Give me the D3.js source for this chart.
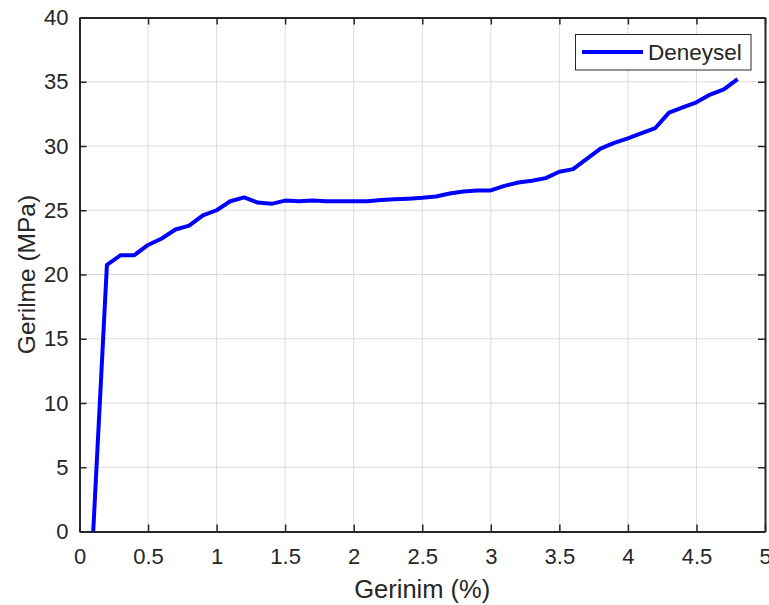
<!DOCTYPE html>
<html><head><meta charset="utf-8">
<script src="https://cdn.jsdelivr.net/npm/d3@7"></script>
<style>body{margin:0;background:#fff}svg{display:block}text{font-family:"Liberation Sans",Arial,sans-serif;fill:#262626}</style>
</head><body><svg id="c" width="769" height="605"></svg>
<script>
const strain = [0.1,0.2,0.3,0.4,0.5,0.6,0.7,0.8,0.9,1.0,1.1,1.2,1.3,1.4,1.5,1.6,1.7,1.8,1.9,2.0,2.1,2.2,2.3,2.4,2.5,2.6,2.7,2.8,2.9,3.0,3.1,3.2,3.3,3.4,3.5,3.6,3.7,3.8,3.9,4.0,4.1,4.2,4.3,4.4,4.5,4.6,4.7,4.8];
const stress = [0,20.75,21.5,21.5,22.3,22.8,23.5,23.8,24.6,25.0,25.7,26.0,25.6,25.5,25.75,25.7,25.75,25.7,25.7,25.7,25.7,25.8,25.85,25.9,25.97,26.07,26.3,26.46,26.54,26.54,26.9,27.16,27.3,27.5,28.0,28.2,29.0,29.8,30.25,30.6,31.0,31.4,32.6,33.0,33.4,34.0,34.4,35.2];
const xTicks = [0,0.5,1,1.5,2,2.5,3,3.5,4,4.5,5];
const yTicks = [0,5,10,15,20,25,30,35,40];
const seriesName = "Deneysel";
const xLabel = "Gerinim (%)", yLabel = "Gerilme (MPa)";

const svg = d3.select("#c");
const L=79.5, R=765, T=17.5, B=531.5;
const x = d3.scaleLinear().domain([0,5]).range([L,R]);
const y = d3.scaleLinear().domain([0,40]).range([B,T]);
const axc="#262626", gridc="#dcdcdc";

// grid
svg.append("g").selectAll("line").data(xTicks.slice(1,-1)).join("line")
  .attr("x1",d=>x(d)).attr("x2",d=>x(d)).attr("y1",T).attr("y2",B).attr("stroke",gridc).attr("stroke-width",1);
svg.append("g").selectAll("line").data(yTicks.slice(1,-1)).join("line")
  .attr("y1",d=>y(d)).attr("y2",d=>y(d)).attr("x1",L).attr("x2",R).attr("stroke",gridc).attr("stroke-width",1);

// axes
const fmt = d=>String(d);
const gx = svg.append("g").attr("transform",`translate(0,${B})`)
  .call(d3.axisBottom(x).tickValues(xTicks).tickFormat(fmt).tickSizeInner(-7).tickSizeOuter(0).tickPadding(17));
const gxt = svg.append("g").attr("transform",`translate(0,${T})`)
  .call(d3.axisTop(x).tickValues(xTicks).tickFormat("").tickSizeInner(-7).tickSizeOuter(0));
const gy = svg.append("g").attr("transform",`translate(${L},0)`)
  .call(d3.axisLeft(y).tickValues(yTicks).tickFormat(fmt).tickSizeInner(-7).tickSizeOuter(0).tickPadding(11));
const gyr = svg.append("g").attr("transform",`translate(${R},0)`)
  .call(d3.axisRight(y).tickValues(yTicks).tickFormat("").tickSizeInner(-7).tickSizeOuter(0));
[gx,gxt,gy,gyr].forEach(g=>{
  g.select(".domain").attr("stroke",axc).attr("stroke-width",2);
  g.selectAll(".tick line").attr("stroke",axc).attr("stroke-width",1.5);
  g.selectAll("text").attr("font-size",22).attr("fill",axc).style("font-family","'Liberation Sans',Arial,sans-serif");
});

// line
svg.append("path").datum(strain.map((s,i)=>[s,stress[i]]))
  .attr("d",d3.line().x(d=>x(d[0])).y(d=>y(d[1])))
  .attr("fill","none").attr("stroke","#0000ff").attr("stroke-width",4).attr("stroke-linejoin","round");

// labels
svg.append("text").attr("x",(L+R)/2).attr("y",598).attr("text-anchor","middle").attr("font-size",25.5).text(xLabel);
svg.append("text").attr("transform",`translate(35,${(T+B)/2}) rotate(-90)`).attr("text-anchor","middle").attr("font-size",24.5).text(yLabel);

// legend
const lg = svg.append("g");
lg.append("rect").attr("x",575.5).attr("y",34.5).attr("width",175.5).attr("height",35.5).attr("fill","#fff").attr("stroke",axc).attr("stroke-width",1);
lg.append("line").attr("x1",582).attr("x2",643).attr("y1",52).attr("y2",52).attr("stroke","#0000ff").attr("stroke-width",4);
lg.append("text").attr("x",648).attr("y",60).attr("font-size",22.5).text(seriesName);
</script></body></html>
